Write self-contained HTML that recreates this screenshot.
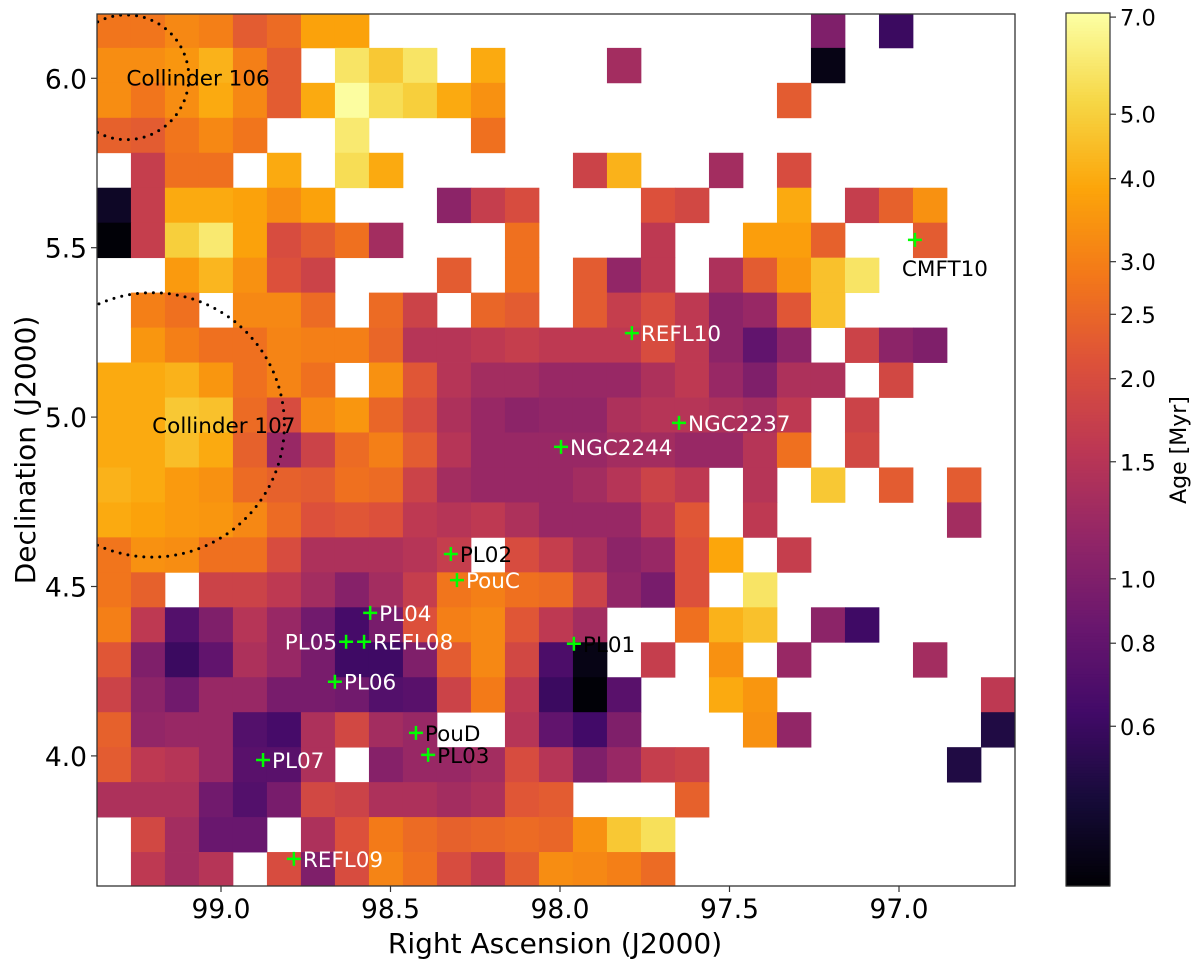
<!DOCTYPE html>
<html><head><meta charset="utf-8"><style>
body{margin:0;background:#fff;}
svg{display:block;font-family:"DejaVu Sans","Liberation Sans",sans-serif;}
</style></head><body>
<svg id="chart" width="1200" height="967" viewBox="0 0 1200 967" xmlns="http://www.w3.org/2000/svg">
<defs><clipPath id="plotclip"><rect x="97" y="14" width="918" height="872"/></clipPath></defs>
<g id="cells" clip-path="url(#plotclip)"></g>
<g id="circles" clip-path="url(#plotclip)"></g>
<g id="markers"></g>
<rect x="97" y="14" width="918" height="872" fill="none" stroke="#333" stroke-width="1.3"/>
<g id="axes"></g>
<g id="cbar"></g>
<text x="555" y="953" font-size="28" text-anchor="middle">Right Ascension (J2000)</text>
<text transform="translate(35,450) rotate(-90)" font-size="28" text-anchor="middle">Declination (J2000)</text>
<text transform="translate(1186,450) rotate(-90)" font-size="22" text-anchor="middle">Age [Myr]</text>
</svg>
<script>
const raStart = 99.366, raStep = 0.1003, decStart = 6.193, decStep = 0.1032;
const xTicks = [99.0, 98.5, 98.0, 97.5, 97.0];
const yTicks = [6.0, 5.5, 5.0, 4.5, 4.0];
const cbTicks = [7.0, 5.0, 4.0, 3.0, 2.5, 2.0, 1.5, 1.0, 0.8, 0.6];
const ageMin = 0.345, ageMax = 7.1;
const row00=[2.8,2.8,3.2,3.0,2.3,2.6,3.8,3.8,0,0,0,0,0,0,0,0,0,0,0,0,0,1.0,0,0.6,0,0,0];
const row01=[3.3,3.3,3.5,4.2,3.0,2.3,0,5.8,4.8,5.8,0,4.0,0,0,0,1.3,0,0,0,0,0,0.38,0,0,0,0,0];
const row02=[3.3,2.8,3.3,4.0,3.2,2.3,4.0,7.0,5.5,5.0,4.0,3.4,0,0,0,0,0,0,0,0,2.3,0,0,0,0,0,0];
const row03=[2.4,2.3,2.8,3.2,2.8,0,0,6.0,0,0,0,2.7,0,0,0,0,0,0,0,0,0,0,0,0,0,0,0];
const row04=[0,1.7,2.7,2.7,0,4.0,0,5.5,4.0,0,0,0,0,0,1.8,4.2,0,0,1.3,0,2.0,0,0,0,0,0,0];
const row05=[0.42,1.7,4.0,4.0,3.8,3.3,3.8,0,0,0,1.1,1.7,2.0,0,0,0,2.1,1.9,0,0,4.0,0,1.7,2.4,3.4,0,0];
const row06=[0.35,1.7,5.0,6.0,3.8,2.0,2.3,2.7,1.3,0,0,0,2.7,0,0,0,1.6,0,0,3.7,3.7,2.4,0,0,2.3,0,0];
const row07=[0,0,3.6,4.3,3.4,2.1,1.8,0,0,0,2.3,0,2.7,0,2.3,1.15,1.6,0,1.4,2.3,3.5,4.6,5.8,0,0,0,0];
const row08=[0,3.0,2.7,0,3.2,3.2,2.6,0,2.6,1.8,0,2.5,2.3,0,2.3,1.7,2.0,1.6,1.1,1.2,2.2,4.6,0,0,0,0,0];
const row09=[0,3.5,3.0,2.7,2.7,3.1,3.0,3.0,2.5,1.5,1.5,1.6,1.7,1.6,1.6,1.6,2.0,1.6,1.1,0.8,1.1,0,1.8,1.1,1.0,0,0];
const row10=[4.0,4.0,4.2,3.5,2.7,3.1,2.7,0,3.4,2.2,1.5,1.3,1.3,1.2,1.2,1.2,1.4,1.6,1.2,1.0,1.4,1.4,0,1.9,0,0,0];
const row11=[4.0,4.0,4.8,4.6,2.6,2.0,3.2,3.5,2.5,2.0,1.4,1.2,1.1,1.15,1.15,1.4,1.5,1.5,1.4,1.3,1.6,0,1.8,0,0,0,0];
const row12=[4.0,4.0,4.5,4.0,2.4,1.2,1.8,2.6,3.0,2.3,1.5,1.2,1.2,1.2,1.2,1.3,1.3,1.2,1.2,1.5,2.7,0,1.9,0,0,0,0];
const row13=[4.2,4.0,3.6,3.4,2.6,2.4,2.3,2.7,2.6,1.8,1.3,1.2,1.2,1.2,1.3,1.5,1.8,1.6,0,1.5,0,4.8,0,2.3,0,2.3,0];
const row14=[4.0,3.8,3.6,3.5,3.2,2.6,2.1,2.2,2.1,1.6,1.5,1.6,1.4,1.2,1.2,1.2,1.6,2.2,0,1.6,0,0,0,0,0,1.3,0];
const row15=[2.8,3.4,3.3,2.7,2.7,2.0,1.4,1.4,1.4,1.5,1.7,0,2.0,1.7,1.35,1.1,1.2,2.1,3.9,0,1.7,0,0,0,0,0,0];
const row16=[2.8,2.4,0,1.8,1.8,1.6,1.3,1.05,1.3,1.7,2.8,3.0,2.7,2.6,1.8,1.15,0.95,2.1,0,5.8,0,0,0,0,0,0,0];
const row17=[3.0,1.6,0.72,1.0,1.5,1.2,0.9,0.65,0.95,2.1,3.0,3.2,2.2,1.6,1.3,0,0,2.7,4.2,4.6,0,1.1,0.62,0,0,0,0];
const row18=[2.2,1.0,0.6,0.8,1.4,1.2,0.95,0.62,0.62,1.0,2.3,3.2,1.9,0.68,0.38,0,1.7,0,3.4,0,1.2,0,0,0,1.3,0,0];
const row19=[1.8,1.1,0.9,1.2,1.2,0.95,0.95,0.9,0.72,0.75,1.8,2.9,1.6,0.6,0.35,0.75,0,0,4.0,3.5,0,0,0,0,0,0,1.6];
const row20=[2.4,1.15,1.2,1.2,0.72,0.65,1.4,1.9,1.3,1.2,0,0,1.5,0.8,0.63,1.0,0,0,0,3.4,1.15,0,0,0,0,0,0.5];
const row21=[2.3,1.6,1.5,1.2,0.75,0.75,1.4,0,1.05,1.2,1.2,1.3,2.0,1.5,1.0,1.2,1.7,1.8,0,0,0,0,0,0,0,0.5,0];
const row22=[1.4,1.4,1.4,0.9,0.72,0.95,1.9,1.8,1.4,1.4,1.3,1.4,2.2,2.3,0,0,0,2.4,0,0,0,0,0,0,0,0,0];
const row23=[0,1.9,1.3,0.85,0.85,0,1.4,2.1,2.9,2.6,2.4,2.5,2.6,2.5,3.4,4.8,5.6,0,0,0,0,0,0,0,0,0,0];
const row24=[0,1.6,1.3,1.5,0,2.0,1.0,2.0,3.1,2.7,2.0,1.6,2.3,3.3,3.2,3.0,2.6,0,0,0,0,0,0,0,0,0,0];
const grid=[row00,row01,row02,row03,row04,row05,row06,row07,row08,row09,row10,row11,row12,row13,row14,row15,row16,row17,row18,row19,row20,row21,row22,row23,row24];
const markerNames=["CMFT10","REFL10","NGC2237","NGC2244","PL02","PouC","PL04","PL05","REFL08","PL06","PL01","PouD","PL03","PL07","REFL09"];
const markerRA=[96.953,97.788,97.649,97.997,98.322,98.304,98.560,98.631,98.578,98.664,97.959,98.425,98.389,98.876,98.785];
const markerDec=[5.523,5.248,4.983,4.912,4.596,4.519,4.422,4.337,4.337,4.219,4.331,4.068,4.003,3.988,3.696];
const clusterNames=["Collinder 106","Collinder 107"];
const clusterRA=[99.279,99.203];
const clusterDec=[6.003,4.977];
const clusterRadius=[0.184,0.39];

const NS="http://www.w3.org/2000/svg";
function xS(ra){return 221+(99.0-ra)*339;}
function yS(d){return 78.3+(6.0-d)*338.8;}
function cbY(v){return 886-Math.log(v/ageMin)/Math.log(ageMax/ageMin)*873;}
const stops=["#000004","#160b39","#420a68","#6a176e","#932667","#bc3754","#dd513a","#f37819","#fca50a","#f6d746","#fcffa4"];
function hx(h){return [1,3,5].map(i=>parseInt(h.substr(i,2),16));}
function inferno(t){t=Math.max(0,Math.min(1,t));const p=t*10,i=Math.min(9,Math.floor(p)),f=p-i;const a=hx(stops[i]),b=hx(stops[i+1]);return "rgb("+a.map((v,k)=>Math.round(v+(b[k]-v)*f)).join(",")+")";}
function col(v){return inferno(Math.log(v/ageMin)/Math.log(ageMax/ageMin));}
function mk(tag,at,parent){const e=document.createElementNS(NS,tag);for(const k in at)e.setAttribute(k,at[k]);parent.appendChild(e);return e;}

const cells=document.getElementById('cells');
grid.forEach((row,r)=>{row.forEach((v,c)=>{if(!v)return;
  const x0=xS(raStart-c*raStep),x1=xS(raStart-(c+1)*raStep),y0=yS(decStart-r*decStep),y1=yS(decStart-(r+1)*decStep);
  const e=mk('rect',{x:x0.toFixed(2),y:y0.toFixed(2),width:(x1-x0+0.4).toFixed(2),height:(y1-y0+0.4).toFixed(2),fill:col(v)},cells);
  
  
});});

const circ=document.getElementById('circles');
clusterNames.forEach((n,i)=>{
  const cx=xS(clusterRA[i]),cy=yS(clusterDec[i]),rr=clusterRadius[i]*339;
  const c=mk('circle',{cx:cx,cy:cy,r:rr,fill:'none',stroke:'#000','stroke-width':3,'stroke-dasharray':'0 8','stroke-linecap':'round'},circ);
  
  
  const t=mk('text',{x:cx,y:cy+8,'font-size':21.5,fill:'#000'},circ);
  
  
  t.textContent=n;
});

const mg=document.getElementById('markers');
const darkLabels={"CMFT10":1,"PL02":1,"PL01":1,"PouD":1,"PL03":1};
markerNames.forEach((n,i)=>{
  const x=xS(markerRA[i]),y=yS(markerDec[i]);
  const p=mk('path',{d:`M${x-7},${y}H${x+7}M${x},${y-7}V${y+7}`,stroke:'#00ff00','stroke-width':2.5},mg);
  
  
  let tx=x+9,ty=y+8,anchor='start';
  if(n==="PL05"){tx=x-9;anchor='end';}
  if(n==="CMFT10"){tx=x-13;ty=y+36;}
  const t=mk('text',{x:tx,y:ty,'font-size':21.5,fill:darkLabels[n]?'#000':'#fff','text-anchor':anchor},mg);
  
  
  t.textContent=n;
});

const ax=document.getElementById('axes');
xTicks.forEach(v=>{const x=xS(v);
  const l=mk('line',{x1:x,x2:x,y1:886,y2:892,stroke:'#333','stroke-width':1.2},ax);
  
  
  const t=mk('text',{x:x,y:918,'font-size':26.5,'text-anchor':'middle'},ax);
  
  
  t.textContent=v.toFixed(1);
});
yTicks.forEach(v=>{const y=yS(v);
  const l=mk('line',{x1:91,x2:97,y1:y,y2:y,stroke:'#333','stroke-width':1.2},ax);
  
  
  const t=mk('text',{x:87,y:y+10,'font-size':26.5,'text-anchor':'end'},ax);
  
  
  t.textContent=v.toFixed(1);
});

const cb=document.getElementById('cbar');
for(let i=0;i<300;i++){
  const v0=ageMin*Math.pow(ageMax/ageMin,i/300),v1=ageMin*Math.pow(ageMax/ageMin,(i+1)/300);
  const r=mk('rect',{x:1066,y:cbY(v1),width:44,height:cbY(v0)-cbY(v1)+0.6,fill:col((v0+v1)/2)},cb);
  
  
}
const fr=mk('rect',{x:1066,y:13,width:44,height:873,fill:'none',stroke:'#333','stroke-width':1.2},cb);


cbTicks.forEach(v=>{const y=cbY(v);
  const l=mk('line',{x1:1110,x2:1116,y1:y,y2:y,stroke:'#333','stroke-width':1.2},cb);
  
  
  const t=mk('text',{x:1120,y:y+8.5,'font-size':22.5},cb);
  
  
  t.textContent=v.toFixed(1);
});
</script>
</body></html>
